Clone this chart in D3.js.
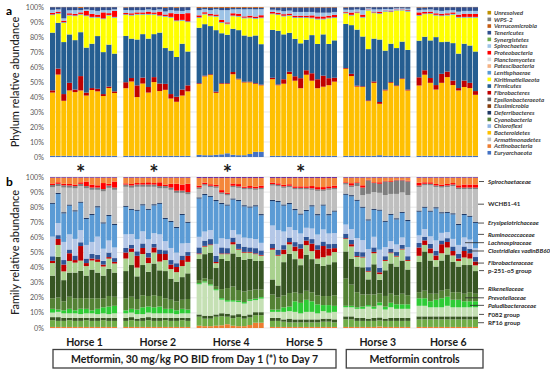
<!DOCTYPE html>
<html><head><meta charset="utf-8">
<script src="https://cdn.jsdelivr.net/npm/d3@7"></script>
<style>body{margin:0;background:#fff}svg{display:block;font-family:Lato,"Open Sans",sans-serif}</style>
</head><body>
<svg id="c" width="550" height="371"></svg>
<script>
// ---------------- DATA ----------------
const horses = ["Horse 1","Horse 2","Horse 4","Horse 5","Horse 3","Horse 6"];
const samplesPerHorse = [12,12,12,12,12,11];
const treatedHorses = ["Horse 1","Horse 2","Horse 4","Horse 5"];
const day1SampleIndex = 5;
const tickLabels = ["0%","10%","20%","30%","40%","50%","60%","70%","80%","90%","100%"];
const boxLabels = ["Metformin, 30 mg/kg PO BID from Day 1 (*) to Day 7","Metformin controls"];

// legend of panel a (top to bottom)
const phylumLegend = ["Unresolved","WPS-2","Verrucomicrobia","Tenericutes","Synergistetes","Spirochaetes","Proteobacteria","Planctomycetes","Patescibacteria","Lentisphaerae","Kiritimatiellaeota","Firmicutes","Fibrobacteres","Epsilonbacteraeota","Elusimicrobia","Deferribacteres","Cyanobacteria","Chloroflexi","Bacteroidetes","Armatimonadetes","Actinobacteria","Euryarchaeota"];

// phylum relative abundance (%), samples H1,H2,H4,H5,H3,H6
const euryarchaeota = [0.8,0.8,0.8,0.8,0.8,0.8,0.8,0.8,0.8,0.8,0.8,0.8, 0.8,0.8,0.8,0.8,0.8,0.8,0.8,0.8,0.8,0.8,0.8,0.8, 1.5,1.2,1.2,1.5,1.8,2.5,1.5,1.2,1.2,2.0,3.5,3.5, 0.8,0.8,0.8,0.8,0.8,0.8,0.8,0.8,0.8,0.8,0.8,0.8, 0.8,0.8,0.8,0.8,0.8,0.8,1.2,0.8,0.8,0.8,0.8,0.8, 0.8,0.8,0.8,0.8,0.8,0.8,0.8,0.8,0.8,0.8,0.8];
const bacteroidetes = [42.2,54.2,36.7,43.6,42.5,43.6,40.2,43.9,43.0,39.9,45.2,41.9, 45.2,49.6,39.2,48.2,42.2,49.2,43.2,44.2,38.2,36.2,40.2,43.0, 47.5,52.8,53.8,41.5,47.2,46.5,54.0,50.8,48.8,48.0,45.5,44.5, 51.2,47.2,48.2,54.7,50.2,45.2,54.2,50.2,45.2,46.2,47.2,49.6, 58.2,53.2,46.2,45.9,36.5,48.7,34.3,43.6,48.7,46.5,51.2,43.6, 47.0,54.2,48.7,44.2,48.7,52.5,47.2,43.6,45.9,45.2,40.7];
const fibrobacteres = [1.5,4,4.5,5.1,1.7,9.6,2,1.3,1.7,1.3,1,1.1, 4,2.3,7.8,4,3.7,3.3,5,4,3,3.4,4,4, 0.5,0.5,0.5,0.8,0.5,0.5,1.5,0.5,0.5,0.5,0.5,0.5, 1,0.5,3,1.5,3,6.7,3,5,6,7.4,4.7,2.6, 0.5,1.5,0.6,0.5,0.5,0.9,1.2,0.6,0.5,0.5,0.5,0.6, 5.5,3,3.2,3,6,3.7,3,1.6,4.3,3.5,2.5];
const firmicutes = [38.5,30.5,34.7,32.3,33,29.3,30,29.6,35.2,28,28,25.2, 31,26.3,30.6,29,32.3,28.7,34,24,29,26.6,30.6,22.6, 37.2,34.5,32.3,41.2,33.5,32.5,29,32.5,31,30.2,32,27.1, 32,35.9,30,26,25,23.3,20.4,25.5,23.6,27.6,22.9,25, 29.5,32.5,37.4,33.2,34.2,28.6,41.7,26,25.6,24.9,24.5,26.5, 24.5,22.4,25.1,32,21.2,20,25,23,24.6,24.9,26.4];
const kiritimatiellaeota = [11.7,6,12.8,12.6,16,11.7,21,17.4,12.3,22,19.4,24, 14,15.4,16.6,13,16,13,11,21,22,24,15.4,19.6, 6.6,6.5,6.6,9,7,7,8.4,9,11.5,12.3,11.2,17.4, 10.5,10.6,12,11.4,14,17,14.6,11.2,16.4,10,17.1,15, 7,6.4,11,12.6,25.8,17,17.1,26,21.1,25.1,20.8,25.5, 16.6,15.1,17.7,14.4,17.3,17.4,19,24,17.4,18.6,22.6];
const lentisphaerae = [0.5,0.5,0.5,0.5,0.5,0.5,0.5,0.5,0.5,0.5,0.4,0.5, 0.5,0.5,0.5,0.5,0.5,0.5,0.5,0.5,0.5,0.5,0.5,0.5, 0.5,0.5,0.5,0.5,0.5,0.5,0.5,0.5,0.5,0.5,0.5,0.5, 0.5,0.5,0.5,0.5,0.5,0.5,0.5,0.5,0.5,0.5,0.5,0.5, 0.5,0.5,0.5,0.5,0.4,0.5,0.5,0.5,0.5,0.4,0.4,0.5, 0.5,0.5,0.5,0.5,0.5,0.5,0.5,0.5,0.5,0.5,0.5];
const proteobacteria = [1,1,1,1,1,1,3,2,1.5,4,1.2,4, 0.8,1,1,1,1.5,1,2.5,1,2.5,4.5,4,5.5, 1.2,1,1,1,1.5,0.8,1.5,1.5,0.8,1.2,1,1.5, 1,1,1,1,1,1,1,1.5,1.5,1.5,1.3,1.5, 0.5,1.5,0.5,1.5,0.3,0.5,1,0.3,0.5,0.3,0.3,0.5, 1.8,1,1,1,1,1,1,1.5,2,2,2];
const spirochaetes = [2,1.5,1.5,2,2.5,1.5,1,2.5,2.5,1.5,2,1, 2,2,1.5,1.5,1.5,1.5,1.5,2,2,2,2,2, 3.5,2,2.6,3.5,6.5,8.2,2.6,3,4.7,4.3,4.8,4, 1.5,1.5,2,2,2.5,2.5,2.5,2.3,2.5,2.5,2,2, 1.5,1.8,1.5,3,0.7,1.5,1.5,1,1,0.7,0.7,1, 1.5,1.5,1.5,2,2,2,1.5,2,2,2,2];
const tenericutes = [1.8,1.5,7.5,2.1,2,1.5,1.5,2,2.5,2,2,1.5, 1.7,2.1,2,2,1.5,2,1.5,2.5,2,2,2.5,2, 1.5,1,1.5,1,1.5,1.5,1,1,1,1,1,1, 1.5,2,2.5,2.1,3,3,3,3,3.5,3.5,3.5,3, 1.5,1.8,1.5,2,0.8,1.5,1.5,1.2,1.3,0.8,0.8,1, 1.8,1.5,1.5,2.1,2.5,2.1,2,3,2.5,2.5,2.5];
const verrucomicrobia = [0.1,0.1,0.1,0.1,0.1,0.6,0.1,0.1,0.1,0.1,0.1,0.1, 0.3,0.1,0.1,0.1,0.1,0.1,0.1,0.5,0.1,0.5,0.1,0.1, 0.6,0.5,0.6,0.5,0.6,0.6,0.6,0.5,0.6,0.5,0.6,0.5, 0.3,0.3,0.3,0.3,0.3,0.3,0.3,0.3,0.3,0.3,0.3,0.3, 0.3,0.1,0.1,0.1,0.1,0.1,0.1,0.1,0.1,0.1,0.1,0.1, 0.3,0.3,0.1,0.1,0.1,0.1,0.1,0.1,0.1,0.1,0.1];

// family relative abundance (%), samples H1,H2,H4,H5,H3,H6
const methanocorpusculaceae = [0.7,0.7,0.7,0.7,0.7,0.7,0.7,0.7,0.7,0.7,0.7,0.7, 0.7,0.7,0.7,0.7,0.7,0.7,0.7,0.7,0.7,0.7,0.7,0.7, 1.5,1.2,1.2,1.5,1.8,2.5,1.5,1.2,1.2,2.0,3.5,3.5, 0.7,0.7,0.7,0.7,0.7,0.7,0.7,0.7,0.7,0.7,0.7,0.7, 0.7,0.7,0.7,0.7,0.7,0.7,1.0,0.7,0.7,0.7,0.7,0.7, 0.7,0.7,0.7,0.7,0.7,0.7,0.7,0.7,0.7,0.7,0.7];
const rf16 = [4.5,4,4,4.5,4,4,4.5,4,4,4.5,4,4, 4,4.5,4,4,4.5,4,4,4.5,4,4,4.5,4, 6,5,5,6,6,5,5,6,5,5,5,5, 4,4,3.5,3,3,3,3,3,3,3.5,3.5,3, 5,5,4,4,4,4,4,4,4,4,4,4, 5,5,5,5,5,5,5,5,5,5,5];
const bacteroidalesOther = [2,2.5,2,1.5,2,2,1.5,2,2,1.5,2,2, 2,2,1.5,2,2,2,2,1.5,2,2,1.5,2, 1.5,2,2,1.5,2,2,2,2,2,2,2,2, 2,2,1.5,2.5,2,2,2,2,2,2,2,2, 2,2,2,2,1.5,2,2,1.5,2,2,2,2, 2,2,2,2,2,2,2,2,2,2,2];
const f082 = [3,3.5,3,3,3,2.5,3,3,2.5,3,2.5,3, 3,3,3,2.5,3,3,3,3,3,2.5,3,3, 20,22,20,16,9,8,9,8,8,9,8,9, 4,4,5,5,5,4,5,5,4,5,4,5, 6,6,6,6,8,6,8,6,7,6,6,6, 7,7,6,6,6,7,6,6,6,6,6];
const paludibacteraceae = [2.5,1.5,2,3,2,3.5,3,2,3.5,4,5,5, 2,2.5,3,4.5,4,4,4.5,3,3,2.5,3,2.5, 0.8,0.8,0.8,0.8,1,1,1,1,1,1,1,1, 1.5,1.5,3,3,7,7,8,7,6,4,5,4, 1,1,1,1.5,1,1.5,2,2,3,3,3,3, 5,5,4,5,6,6,5,5,4,4,4];
const prevotellaceae = [7,8,6,8,8,7,7,8,7,6,7,6, 8,8,7,8,7,8,7,7,6,6,6,7, 2,2,3,2,6,8,9,7,7,6,6,5, 10,8,8,9,6,6,6,6,6,6,6,7, 18,14,10,8,7,8,6,7,6,6,7,6, 4,5,5,4,5,5,5,5,5,6,5];
const rikenellaceae = [15,27,14,16,17,18,15,19,17,15,18,16, 18,21,15,20,16,21,17,18,14,13,15,17, 14,16,18,12,20,18,22,22,21,21,19,19, 10,8,22,26,22,19,24,22,21,20,21,22, 18,17,17,18,10,20,9,17,20,19,22,17, 20,26,22,18,20,23,20,17,19,18,15];
const p251o5 = [8.3,7.8,5.8,7.7,6.6,6.7,6.3,6,7.1,6,6.8,6, 8.3,8.7,5.8,7.3,5.8,7.3,5.8,7.3,6.3,6.3,7.3,7.6, 3.2,5,5,3.2,3.2,4.5,6,4.8,4.8,4,4.5,3.5, 19.8,19.8,5.3,6.3,5.3,4.3,6.3,5.3,3.3,5.8,5.8,6.7, 8.3,8.3,6.3,6.5,5.1,7.3,3.8,6.2,6.8,6.6,7.3,5.7, 4.1,4.3,4.8,4.3,4.8,4.6,4.3,3.7,5,4.3,3.8];
const fibrobacteraceae = [1.5,4,4.5,5.1,1.7,9.6,2,1.3,1.7,1.3,1,1.1, 4,2.3,7.8,4,3.7,3.3,5,4,3,3.4,4,4, 0.5,0.5,0.5,0.8,0.5,0.5,1.5,0.5,0.5,0.5,0.5,0.5, 1,0.5,3,1.5,3,6.7,3,5,6,7.4,4.7,2.6, 0.5,1.5,0.6,0.5,0.5,0.9,1.2,0.6,0.5,0.5,0.5,0.6, 5.5,3,3.2,3,6,3.7,3,1.6,4.3,3.5,2.5];
const clostridialesVadin = [3,2.5,3,2.5,3,2.5,3,3,3,2.5,3,2.5, 3,2.5,3,3,3,2.5,3,2.5,3,2.5,3,2.5, 4,3.5,3.5,4,4,3.5,3,3.5,3.5,3,3.5,3, 3,3.5,3,3,3,3,2.5,3,3,3,3,3, 3,3,3,3,2.5,3,3,2.5,2.5,2.5,2.5,2.5, 3,2.5,3,3,2.5,2.5,3,3,3,3,3];
const lachnospiraceae = [13,8,12,10,11,8,9,8,12,8,8,7, 9,7,8,8,9,7,10,6,8,7,8,6, 7,6,6,8,6,6,5,6,6,6,6,5, 12,13,9,7,8,7,6,7,7,8,7,7, 6,7,9,8,12,7,12,6,5,5,5,6, 5,5,5,7,5,4,5,6,6,6,6];
const ruminococcaceae = [21.7,19.2,18.9,19,18.2,18,17.2,17.8,19.4,16.7,16.2,14.9, 18.2,16,18.8,17.2,19.5,18.4,20.2,14.7,17.2,16.3,18.8,13.3, 25.4,24.2,22,28.4,22.7,22.2,20.2,22.2,20.7,20.4,21.7,18.3, 16.2,18.6,17.2,15.2,13.2,12.5,11.1,14.7,12.8,15.8,12.1,14.2, 19.7,21.7,24.6,21.4,18.9,17.8,25.9,16.7,17.3,16.6,16.2,17.2, 15.7,14.1,16.3,21.2,12.9,12.7,16.2,13.2,14.8,15.1,16.6];
const erysipelotrichaceae = [0.8,0.8,0.8,0.8,0.8,0.8,0.8,0.8,0.8,0.8,0.8,0.8, 0.8,0.8,0.8,0.8,0.8,0.8,0.8,0.8,0.8,0.8,0.8,0.8, 0.8,0.8,0.8,0.8,0.8,0.8,0.8,0.8,0.8,0.8,0.8,0.8, 0.8,0.8,0.8,0.8,0.8,0.8,0.8,0.8,0.8,0.8,0.8,0.8, 0.8,0.8,0.8,0.8,0.8,0.8,0.8,0.8,0.8,0.8,0.8,0.8, 0.8,0.8,0.8,0.8,0.8,0.8,0.8,0.8,0.8,0.8,0.8];
const wchb141 = [10.2,4.5,16.3,11.1,14.5,10.2,19.5,15.9,10.8,20.5,17.9,22.5, 12.5,13.9,15.1,11.5,14.5,11.5,9.5,19.5,20.5,22.5,13.9,18.1, 5.6,5.5,5.6,8,6,6,7.4,8,10.5,11.3,10.2,16.4, 9.5,9.6,11,10.4,13,16,13.6,10.2,15.4,9,16.1,14, 6,5.4,9,7.6,16.8,11,11.1,17,13.1,16.1,12.8,16.5, 15.6,14.1,16.7,13.4,16.3,16.4,18,23,16.4,17.6,21.6];
const kiritiOther = [1.5,1.5,1.5,1.5,1.5,1.5,1.5,1.5,1.5,1.5,1.5,1.5, 1.5,1.5,1.5,1.5,1.5,1.5,1.5,1.5,1.5,1.5,1.5,1.5, 1,1,1,1,1,1,1,1,1,1,1,1, 1,1,1,1,1,1,1,1,1,1,1,1, 1,1,2,5,9,6,6,9,8,9,8,9, 1,1,1,1,1,1,1,1,1,1,1];
const succinivibrionaceae = [1,1,1,1,1,1,3,2,1.5,4,1.2,4, 0.8,1,1,1,1.5,1,2.5,1,2.5,4.5,4,5.5, 1.2,1,1,1,1.5,0.8,1.5,1.5,0.8,1.2,1,1.5, 1,1,1,1,1,1,1,1.5,1.5,1.5,1.3,1.5, 0.5,1.5,0.5,1.5,0.3,0.5,1,0.3,0.5,0.3,0.3,0.5, 1.8,1,1,1,1,1,1,1.5,2,2,2];
const spirochaetaceae = [3.8,3,4,4.1,4.5,3,2.5,4.5,5,3.5,4,2.5, 3.7,4.1,3.5,3.5,3,3.5,3,4.5,4,4,4.5,4, 5,3,4.1,4.5,8,9.7,3.6,4,5.7,5.3,5.8,5, 3,3.5,4.5,4.1,5.5,5.5,5.5,5.3,6,6,5.5,5, 3,3.6,3,5,1.5,3,3,2.2,2.3,1.5,1.5,2, 3.3,3,3,4.1,4.5,4.1,3.5,5,4.5,4.5,4.5];
const otherFamilies = [0.5,0.5,0.5,0.5,0.5,0.5,0.5,0.5,0.5,0.5,0.5,0.5, 0.5,0.5,0.5,0.5,0.5,0.5,0.5,0.5,0.5,0.5,0.5,0.5, 0.7,0.7,0.7,0.7,0.7,0.7,0.7,0.7,0.7,0.7,0.7,0.7, 0.7,0.7,0.7,0.7,0.7,0.7,0.7,0.7,0.7,0.7,0.7,0.7, 0.5,0.5,0.5,0.5,0.4,0.5,0.5,0.4,0.4,0.4,0.4,0.4, 0.5,0.5,0.5,0.5,0.5,0.5,0.5,0.5,0.5,0.5,0.5];

// labelled families (top to bottom)
const familyLabels = ["Spirochaetaceae","WCHB1-41","Erysipelotrichaceae","Ruminococcaceae","Lachnospiraceae","Clostridiales vadinBB60","Fibrobacteraceae","p-251-o5 group","Rikenellaceae","Prevotellaceae","Paludibacteraceae","F082 group","RF16 group"];

// ---------------- STYLE ----------------
const phylumColors = {"Unresolved":"#BF9000","WPS-2":"#7F7F7F","Verrucomicrobia":"#C55A11","Tenericutes":"#2F4F8F","Synergistetes":"#70AD47","Spirochaetes":"#9DC3E6","Proteobacteria":"#FF0000","Planctomycetes":"#D9D9D9","Patescibacteria":"#F4B183","Lentisphaerae":"#5B9BD5","Kiritimatiellaeota":"#FFFF00","Firmicutes":"#255E91","Fibrobacteres":"#C00000","Epsilonbacteraeota":"#636363","Elusimicrobia":"#843C0C","Deferribacteres":"#1F3864","Cyanobacteria":"#548235","Chloroflexi":"#8FB4E3","Bacteroidetes":"#FFC000","Armatimonadetes":"#BFBFBF","Actinobacteria":"#ED7D31","Euryarchaeota":"#4472C4"};
const phylumSeries = [
  ["Euryarchaeota",euryarchaeota],["Bacteroidetes",bacteroidetes],["Fibrobacteres",fibrobacteres],["Firmicutes",firmicutes],["Kiritimatiellaeota",kiritimatiellaeota],["Lentisphaerae",lentisphaerae],["Proteobacteria",proteobacteria],["Spirochaetes",spirochaetes],["Tenericutes",tenericutes],["Verrucomicrobia",verrucomicrobia]];
const familySeries = [
  ["Methanocorpusculaceae",methanocorpusculaceae,"#ED7D31"],["RF16 group",rf16,"#70AD47"],["Bacteroidales other",bacteroidalesOther,"#385723"],["F082 group",f082,"#C5E0B4"],["Paludibacteraceae",paludibacteraceae,"#2ECC35"],["Prevotellaceae",prevotellaceae,"#548235"],["Rikenellaceae",rikenellaceae,"#375623"],["p-251-o5 group",p251o5,"#A9D18E"],["Fibrobacteraceae",fibrobacteraceae,"#C00000"],["Clostridiales vadinBB60",clostridialesVadin,"#2F5597"],["Lachnospiraceae",lachnospiraceae,"#B4C7E7"],["Ruminococcaceae",ruminococcaceae,"#5B9BD5"],["Erysipelotrichaceae",erysipelotrichaceae,"#1F3864"],["WCHB1-41",wchb141,"#BFBFBF"],["Kiritimatiellaceae",kiritiOther,"#7F7F7F"],["Succinivibrionaceae",succinivibrionaceae,"#FF0000"],["Spirochaetaceae",spirochaetaceae,"#F4873A"],["Other",otherFamilies,"#7030A0"]];
const leaderPct = [97,82,69.5,62,56.5,51,43,38,26,20,15,9,3.5];
const leaderStart = [479,478,478,478,465,469,475,479,478,465,470,479,478];
const italicLabel = [true,false,true,true,true,true,true,false,true,true,true,false,false];

// ---------------- BUILD ----------------
const svg = d3.select("#c");
const slots = [], samples = [];
let k = 0;
horses.forEach((h,hi)=>{
  for(let i=0;i<samplesPerHorse[hi];i++){ const id=h+"-"+i; slots.push(id); samples.push({id,horse:h,i,k:k++}); }
  if(hi<horses.length-1) slots.push("gap"+hi);
});
const x = d3.scaleBand().domain(slots).range([50,478]).paddingInner(0.11).paddingOuter(0);
const ya = d3.scaleLinear().domain([0,1]).range([157,7]);
const yb = d3.scaleLinear().domain([0,1]).range([328,177]);

function panel(y, series, colorOf){
  const keys = series.map(s=>s[0]);
  const rows = samples.map(s=>{ const r={id:s.id}; series.forEach(se=>r[se[0]]=se[1][s.k]); return r; });
  const stack = d3.stack().keys(keys).offset(d3.stackOffsetExpand)(rows);
  const g = svg.append("g");
  g.selectAll("line.grid").data(d3.range(0,1.0001,0.1)).join("line")
    .attr("x1",50).attr("x2",478).attr("y1",d=>y(d)).attr("y2",d=>y(d))
    .attr("stroke","#D9D9D9").attr("stroke-width",0.6);
  g.selectAll("g.layer").data(stack).join("g").attr("fill",(d,i)=>colorOf(series[i]))
    .selectAll("rect").data(d=>d).join("rect")
    .attr("x",d=>x(d.data.id)).attr("width",x.bandwidth())
    .attr("y",d=>y(d[1])).attr("height",d=>Math.max(0,y(d[0])-y(d[1])));
  g.selectAll("text.tick").data(tickLabels).join("text")
    .attr("x",44).attr("y",(d,i)=>y(i/10)).attr("dy","0.35em").attr("text-anchor","end")
    .attr("font-size",7.2).attr("fill","#595959").text(d=>d);
  return stack;
}
panel(ya, phylumSeries, s=>phylumColors[s[0]]);
panel(yb, familySeries, s=>s[2]);

// axis titles and panel letters
svg.append("text").attr("transform",`translate(19,${(ya(0)+ya(1))/2}) rotate(-90)`).attr("text-anchor","middle")
  .attr("font-size",11).attr("font-weight",500).attr("fill","#1f1f1f").text("Phylum relative abundance");
svg.append("text").attr("transform",`translate(19,${(yb(0)+yb(1))/2}) rotate(-90)`).attr("text-anchor","middle")
  .attr("font-size",11).attr("font-weight",500).attr("fill","#1f1f1f").text("Family relative abundance");
svg.append("text").attr("x",6).attr("y",15).attr("font-size",12).attr("font-weight","bold").text("a");
svg.append("text").attr("x",6).attr("y",186).attr("font-size",12).attr("font-weight","bold").text("b");

// phylum legend
const lg = svg.append("g");
phylumLegend.forEach((p,i)=>{
  const yy = 12.7 + i*6.67;
  lg.append("rect").attr("x",487.5).attr("y",yy-1.8).attr("width",3.6).attr("height",3.6).attr("fill",phylumColors[p]);
  lg.append("text").attr("x",494).attr("y",yy).attr("dy","0.35em").attr("font-size",6.2).attr("font-style","italic")
    .attr("font-weight","bold").attr("fill","#404040").text(p);
});

// family labels with leaders
familyLabels.forEach((f,i)=>{
  const yy = yb(leaderPct[i]/100);
  svg.append("line").attr("x1",leaderStart[i]).attr("x2",484).attr("y1",yy).attr("y2",yy).attr("stroke","#262626").attr("stroke-width",0.8);
  svg.append("text").attr("x",488).attr("y",yy).attr("dy","0.35em").attr("font-size",6.2)
    .attr("font-style",italicLabel[i]?"italic":"normal").attr("font-weight","bold").attr("fill","#262626").text(f);
});

// asterisks
treatedHorses.forEach(h=>{
  svg.append("text").attr("x",x(h+"-"+day1SampleIndex)+x.bandwidth()/2).attr("y",181).attr("text-anchor","middle")
    .attr("font-size",22).attr("font-weight","bold").attr("fill","#1a1a1a").text("*");
});

// horse labels
horses.forEach((h,hi)=>{
  const a = x(h+"-0"), b = x(h+"-"+(samplesPerHorse[hi]-1))+x.bandwidth();
  svg.append("text").attr("x",(a+b)/2+1).attr("y",346).attr("text-anchor","middle")
    .attr("font-size",10.5).attr("font-weight","bold").attr("fill","#1a1a1a").text(h);
});

// boxes
const boxes = [[horses[0],horses[3]],[horses[4],horses[5]]];
boxes.forEach((bx,bi)=>{
  const hiEnd = horses.indexOf(bx[1]);
  const a = x(bx[0]+"-0")+3, b = x(bx[1]+"-"+(samplesPerHorse[hiEnd]-1))+x.bandwidth()+(bi===1?5:-1);
  svg.append("rect").attr("x",a).attr("y",349.5).attr("width",b-a).attr("height",18.5)
    .attr("fill","none").attr("stroke","#404040").attr("stroke-width",1.3);
  svg.append("text").attr("x",(a+b)/2).attr("y",362.5).attr("text-anchor","middle")
    .attr("font-size",10.5).attr("font-weight","bold").attr("fill","#1a1a1a").text(boxLabels[bi]);
});
</script>
</body></html>
